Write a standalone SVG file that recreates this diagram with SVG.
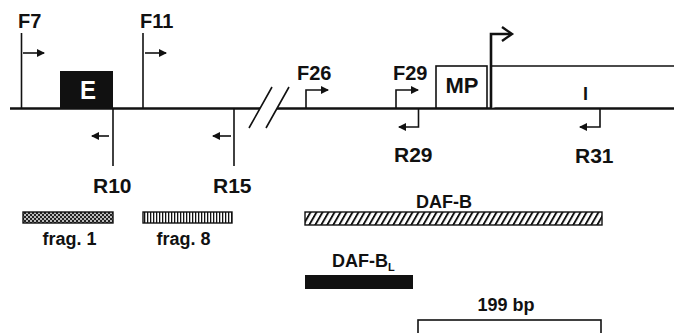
<svg xmlns="http://www.w3.org/2000/svg" width="674" height="333" viewBox="0 0 674 333">
  <style>
    text { font-family: "Liberation Sans", Arial, sans-serif; font-weight: bold; fill: #111; }
    .lbl { font-size: 20px; }
    .rl { font-size: 21px; }
    .sm { font-size: 18px; }
    .ln { stroke: #111; stroke-width: 1.6; fill: none; }
    .main { stroke: #111; stroke-width: 2.6; fill: none; }
    .box { stroke: #111; stroke-width: 1.6; fill: #fff; }
  </style>
  <defs>
    <marker id="ah" viewBox="0 0 8 8" refX="7" refY="4" markerWidth="8" markerHeight="8" markerUnits="userSpaceOnUse" orient="auto">
      <path d="M0,0 L8,4 L0,8 Z" fill="#111"/>
    </marker>
    <pattern id="check" width="4" height="4" patternUnits="userSpaceOnUse">
      <rect width="4" height="4" fill="#bbb"/>
      <rect x="0" y="0" width="2" height="2" fill="#222"/>
      <rect x="2" y="2" width="2" height="2" fill="#222"/>
    </pattern>
    <pattern id="vstripe" width="3" height="4" patternUnits="userSpaceOnUse">
      <rect width="3" height="4" fill="#fff"/>
      <rect x="0" y="0" width="1.3" height="4" fill="#111"/>
    </pattern>
    <pattern id="diag" width="6" height="14" patternUnits="userSpaceOnUse" patternTransform="skewX(-30)">
      <rect width="6" height="14" fill="#fff"/>
      <rect x="0" y="0" width="2.2" height="14" fill="#111"/>
    </pattern>
  </defs>
  <rect width="674" height="333" fill="#fff"/>

  <g id="connectors">
    <path class="main" d="M10,108.5 H260"/>
    <path class="main" d="M277,108.5 H674"/>
    <path class="ln" d="M249,128 L272,87 M266,128 L289,87"/>
  </g>

  <g id="exon-E">
    <rect x="60" y="71" width="53" height="37" fill="#111"/>
    <text x="88" y="99" text-anchor="middle" font-size="26" style="fill:#fff" textLength="16" lengthAdjust="spacingAndGlyphs">E</text>
  </g>

  <g id="box-MP">
    <rect class="box" x="436" y="66" width="51" height="42"/>
    <text x="462" y="93" text-anchor="middle" font-size="22">MP</text>
  </g>

  <g id="box-I">
    <path class="box" d="M491,108 V66 H676"/>
    <text x="585.5" y="100" text-anchor="middle" font-size="18">I</text>
  </g>

  <g id="tss">
    <path d="M491,108 V34 H511" stroke="#111" stroke-width="2.6" fill="none"/>
    <path d="M502,27 L512,34 L502,41" stroke="#111" stroke-width="2.4" fill="none"/>
  </g>

  <g id="primer-F7">
    <path class="ln" d="M21.5,33 V108"/>
    <path class="ln" d="M23,53 H44" marker-end="url(#ah)"/>
    <text class="lbl" x="18" y="28">F7</text>
  </g>
  <g id="primer-F11">
    <path class="ln" d="M143,33 V108"/>
    <path class="ln" d="M145,53 H166" marker-end="url(#ah)"/>
    <text class="lbl" x="140" y="28">F11</text>
  </g>
  <g id="primer-R10">
    <path class="ln" d="M113,108 V166"/>
    <path class="ln" d="M109,136 H92" marker-end="url(#ah)"/>
    <text class="rl" x="93" y="193">R10</text>
  </g>
  <g id="primer-R15">
    <path class="ln" d="M234,108 V166"/>
    <path class="ln" d="M231,136 H213" marker-end="url(#ah)"/>
    <text class="rl" x="213" y="193">R15</text>
  </g>
  <g id="primer-F26">
    <path class="ln" d="M306,108 V90 H328" marker-end="url(#ah)"/>
    <text class="lbl" x="297" y="80">F26</text>
  </g>
  <g id="primer-F29">
    <path class="ln" d="M396,108 V90 H418" marker-end="url(#ah)"/>
    <text class="lbl" x="393" y="80">F29</text>
  </g>
  <g id="primer-R29">
    <path class="ln" d="M418.5,109 V127 H399" marker-end="url(#ah)"/>
    <text class="rl" x="394" y="162">R29</text>
  </g>
  <g id="primer-R31">
    <path class="ln" d="M600,109 V127 H580" marker-end="url(#ah)"/>
    <text class="rl" x="575" y="163">R31</text>
  </g>

  <g id="frag-1">
    <rect x="23" y="212" width="90" height="11" fill="url(#check)" stroke="#111" stroke-width="1.4"/>
    <text class="sm" x="69.5" y="245" text-anchor="middle">frag. 1</text>
  </g>
  <g id="frag-8">
    <rect x="143" y="212" width="89" height="11" fill="url(#vstripe)" stroke="#111" stroke-width="1.4"/>
    <text class="sm" x="183.5" y="245" text-anchor="middle">frag. 8</text>
  </g>
  <g id="daf-b">
    <rect x="305" y="212" width="297" height="13" fill="url(#diag)" stroke="#111" stroke-width="1.4"/>
    <text class="sm" x="444" y="208" text-anchor="middle">DAF-B</text>
  </g>
  <g id="daf-bl">
    <rect x="305" y="275" width="108" height="14" fill="#111"/>
    <text class="sm" x="332" y="267">DAF-B<tspan font-size="11" dy="4">L</tspan></text>
  </g>
  <g id="scale-199bp">
    <rect x="418" y="320" width="183" height="20" fill="#fff" stroke="#111" stroke-width="1.6"/>
    <text class="sm" x="506" y="311" text-anchor="middle">199 bp</text>
  </g>
</svg>
